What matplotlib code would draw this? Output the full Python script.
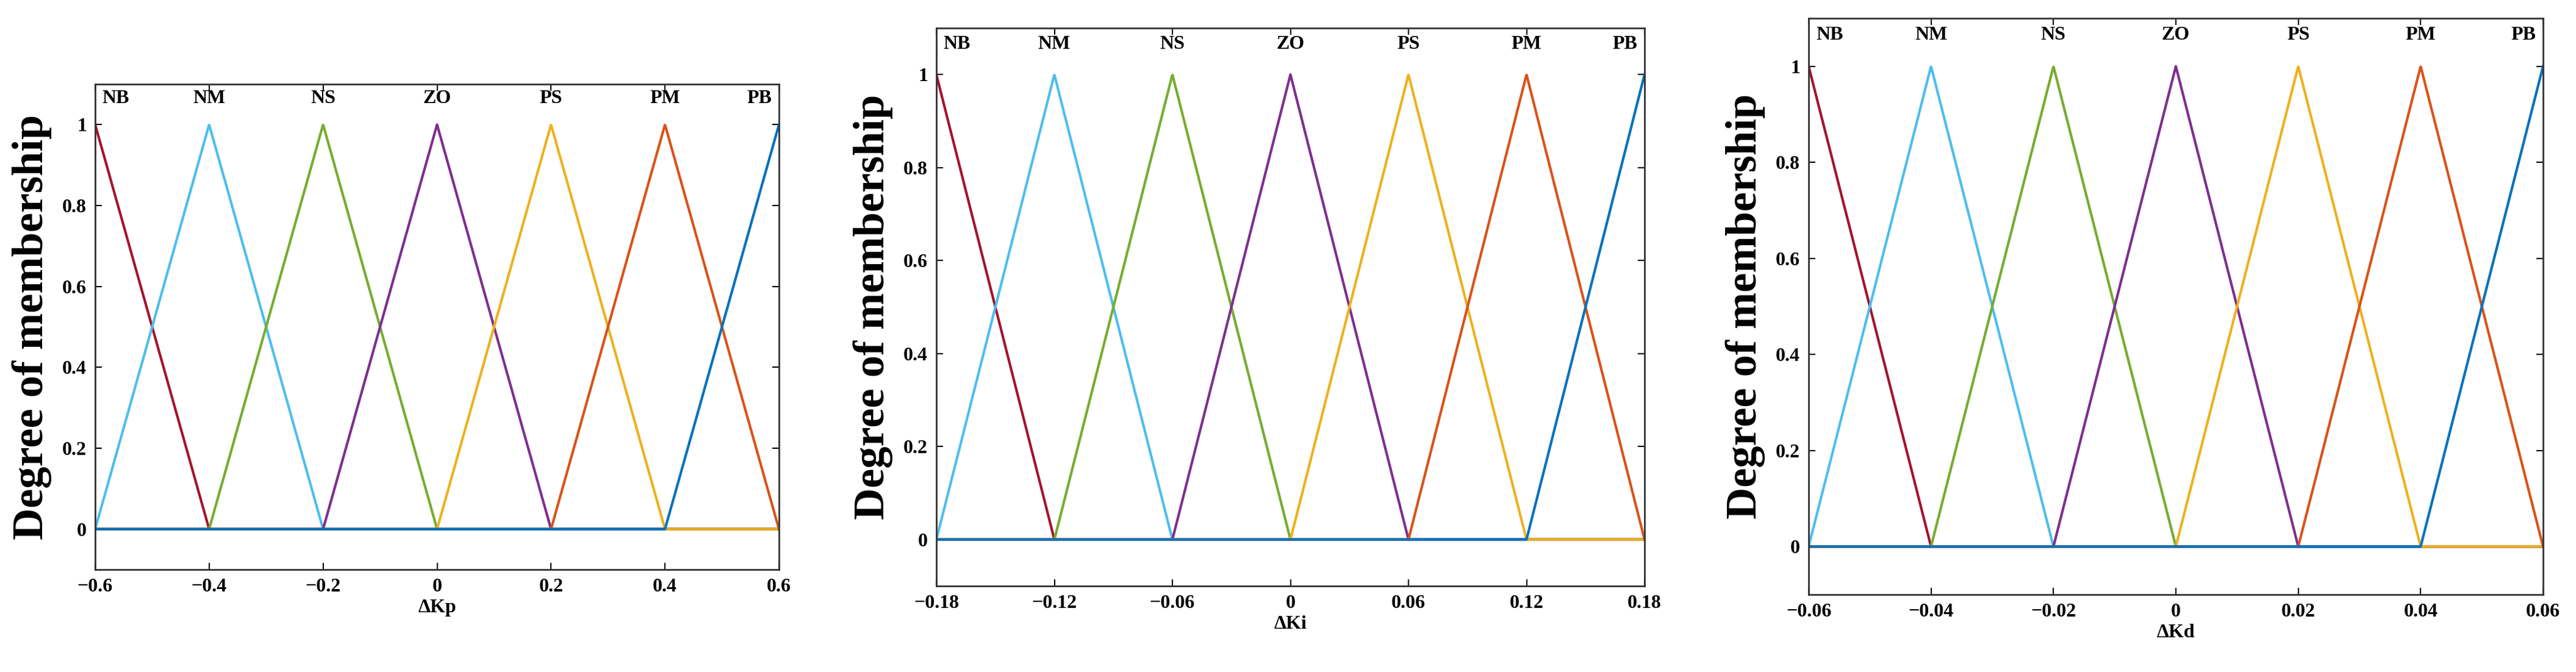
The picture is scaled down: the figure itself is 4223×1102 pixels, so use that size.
import matplotlib
matplotlib.use('Agg')
import matplotlib.pyplot as plt
from matplotlib.ticker import FuncFormatter
import numpy as np

plt.rcParams['font.family'] = ['Liberation Serif', 'DejaVu Serif']
plt.rcParams['font.weight'] = 'bold'

labels = ['NB', 'NM', 'NS', 'ZO', 'PS', 'PM', 'PB']
colors = ['#A2142F', '#4DBEEE', '#77AC30', '#7E2F8E', '#EDB120', '#D95319', '#0072BD']

# peak positions of the triangular membership functions
kp_peaks = [-0.6, -0.4, -0.2, 0.0, 0.2, 0.4, 0.6]
ki_peaks = [-0.18, -0.12, -0.06, 0.0, 0.06, 0.12, 0.18]
kd_peaks = [-0.06, -0.04, -0.02, 0.0, 0.02, 0.04, 0.06]
xlabels = ['ΔKp', 'ΔKi', 'ΔKd']
yticks = [0, 0.2, 0.4, 0.6, 0.8, 1]

# axes rectangles in pixels: left, right, top, bottom
W, H = 4223, 1102
boxes = [(156, 1277, 138, 934), (1535, 2696, 46, 961), (2965, 4169, 30, 975)]

def fmt(v, pos):
    s = ('%.2f' % v).rstrip('0').rstrip('.')
    if s in ('-0', '0.'):
        s = '0'
    return s.replace('-', '−')

fig = plt.figure(figsize=(W / 100, H / 100), dpi=100)
for peaks, xl, (l, r, t, b) in zip([kp_peaks, ki_peaks, kd_peaks], xlabels, boxes):
    ax = fig.add_axes([l / W, 1 - b / H, (r - l) / W, (b - t) / H])
    step = peaks[1] - peaks[0]
    x = np.linspace(peaks[0], peaks[-1], 2001)
    for pk, lab, col in zip(peaks, labels, colors):
        y = np.clip(1 - np.abs(x - pk) / step, 0, 1)
        ax.plot(x, y, color=col, lw=3)
        ha = 'center'
        xt = pk
        if pk == peaks[0]:
            xt = pk + step * 0.06
            ha = 'left'
        elif pk == peaks[-1]:
            xt = pk - step * 0.06
            ha = 'right'
        ax.text(xt, 1.065, lab, ha=ha, va='center', fontsize=23, fontweight='bold')
    ax.set_xlim(peaks[0], peaks[-1])
    ax.set_ylim(-0.1, 1.1)
    ax.set_xticks(peaks)
    ax.set_yticks(yticks)
    ax.xaxis.set_major_formatter(FuncFormatter(fmt))
    ax.yaxis.set_major_formatter(FuncFormatter(fmt))
    ax.tick_params(direction='in', length=8, width=1.5, labelsize=23, top=True, right=True, pad=10)
    for lbl in ax.get_xticklabels() + ax.get_yticklabels():
        lbl.set_fontweight('bold')
    for sp in ax.spines.values():
        sp.set_linewidth(2)
        sp.set_color('#333333')
    ax.set_xlabel(xl, fontsize=23, fontweight='bold')
    ax.set_ylabel('Degree of membership', fontsize=52, fontweight='bold', labelpad=12)

fig.savefig('out.png', dpi=100)
